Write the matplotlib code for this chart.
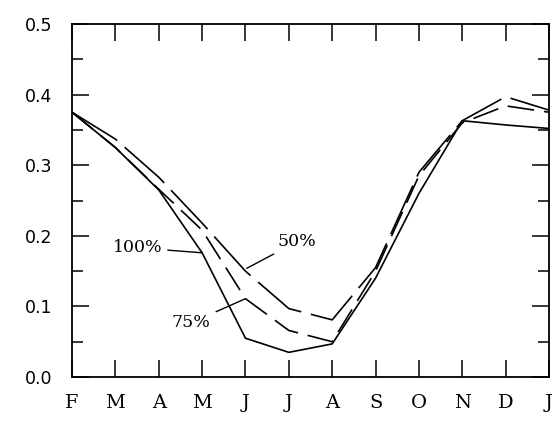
import numpy as np
import matplotlib
matplotlib.use("Agg")
import matplotlib.pyplot as plt
from matplotlib.ticker import MultipleLocator

# month labels along the bottom (Feb .. Jan)
months = ["F", "M", "A", "M", "J", "J", "A", "S", "O", "N", "D", "J"]

# values
p100 = [0.375, 0.325, 0.265, 0.176, 0.055, 0.035, 0.047, 0.140, 0.260, 0.363, 0.357, 0.352]
p75 = [0.375, 0.325, 0.266, 0.208, 0.111, 0.066, 0.050, 0.150, 0.285, 0.360, 0.384, 0.375]
p50 = [0.375, 0.337, 0.283, 0.218, 0.150, 0.097, 0.081, 0.155, 0.290, 0.363, 0.397, 0.378]

x = np.arange(len(months))

fig = plt.figure(figsize=(5.54, 4.28), dpi=100)
ax = fig.add_axes([0.130, 0.119, 0.861, 0.825])

ax.plot(x, p100, color="black", lw=1.2)
ax.plot(x, p75, color="black", lw=1.2, dashes=(16, 6))
ax.plot(x, p50, color="black", lw=1.2, dashes=(32, 6))

ax.set_xlim(0, 11)
ax.set_ylim(0, 0.5)

# ticks: inward on every side
ax.set_xticks(x)
ax.set_xticklabels(months, fontfamily="DejaVu Serif", fontsize=14)
ax.yaxis.set_minor_locator(MultipleLocator(0.05))
ax.set_yticks(np.arange(0, 0.51, 0.1))
ax.set_yticklabels(["0.0", "0.1", "0.2", "0.3", "0.4", "0.5"], fontfamily="DejaVu Sans", fontsize=12.5)
ax.tick_params(axis="x", which="major", direction="in", length=12, width=1.1,
               top=True, bottom=True, pad=12)
ax.tick_params(axis="y", which="major", direction="in", length=12, width=1.1,
               left=True, right=True, pad=14)
ax.tick_params(axis="y", which="minor", direction="in", length=8, width=1.1,
               left=True, right=True)
for s in ax.spines.values():
    s.set_linewidth(1.3)

# labels with leader lines
lab = dict(fontfamily="DejaVu Serif", fontsize=12.5, va="center")
ax.annotate("100%", xy=(3.0, 0.176), xytext=(2.08, 0.183), ha="right",
            arrowprops=dict(arrowstyle="-", lw=1.0, color="black", shrinkA=2, shrinkB=0), **lab)
ax.annotate("75%", xy=(4.0, 0.111), xytext=(3.2, 0.077), ha="right",
            arrowprops=dict(arrowstyle="-", lw=1.0, color="black", shrinkA=2, shrinkB=0), **lab)
ax.annotate("50%", xy=(4.03, 0.154), xytext=(4.75, 0.192), ha="left",
            arrowprops=dict(arrowstyle="-", lw=1.0, color="black", shrinkA=2, shrinkB=0), **lab)

fig.savefig("out.png", dpi=100)
